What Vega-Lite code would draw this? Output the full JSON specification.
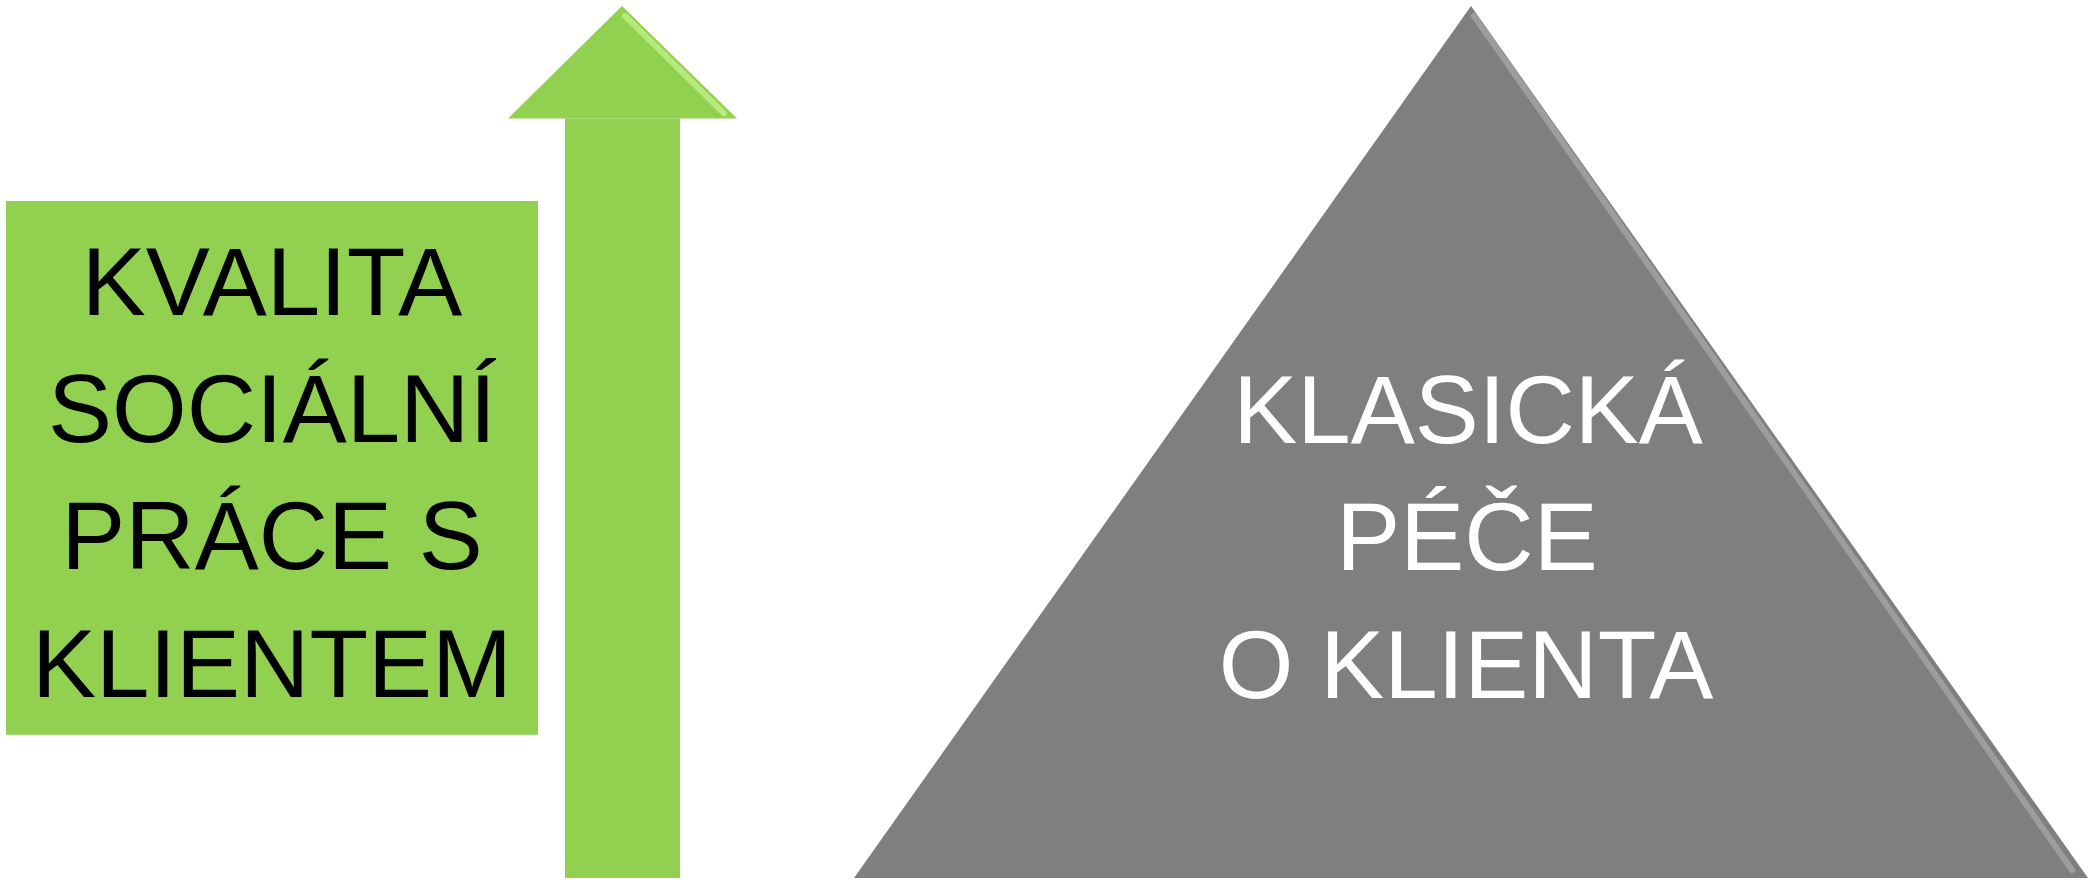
{
  "$schema": "https://vega.github.io/schema/vega-lite/v6.json",
  "width": 2100,
  "height": 882,
  "autosize": {"type": "fit", "contains": "padding"},
  "padding": 0,
  "background": "white",
  "config": {"view": {"stroke": null}},
  "resolve": {"scale": {"color": "independent"}},
  "datasets": {
    "rects": [
      {"shape": "box", "x": 6, "x2": 538, "y": 202, "y2": 738},
      {"shape": "shaft", "x": 565, "x2": 680, "y": 119, "y2": 882}
    ],
    "head": [
      {"x": 508, "y": 119, "b": 119},
      {"x": 622, "y": 6, "b": 119},
      {"x": 737, "y": 119, "b": 119}
    ],
    "triangle": [
      {"x": 854, "y": 882, "b": 882},
      {"x": 1471, "y": 6, "b": 882},
      {"x": 2088, "y": 882, "b": 882}
    ],
    "highlights": [
      {"s": "tri", "x": 1474, "y": 16},
      {"s": "tri", "x": 2072, "y": 874},
      {"s": "arrow", "x": 625, "y": 16},
      {"s": "arrow", "x": 724, "y": 114}
    ],
    "labels": [
      {"g": "left", "t": "KVALITA", "x": 272, "y": 316},
      {"g": "left", "t": "SOCIÁLNÍ", "x": 272, "y": 444},
      {"g": "left", "t": "PRÁCE S", "x": 272, "y": 572},
      {"g": "left", "t": "KLIENTEM", "x": 272, "y": 700},
      {"g": "right", "t": "KLASICKÁ", "x": 1468, "y": 445},
      {"g": "right", "t": "PÉČE", "x": 1467, "y": 573},
      {"g": "right", "t": "O KLIENTA", "x": 1466, "y": 701}
    ]
  },
  "layer": [
    {
      "data": {"name": "rects"},
      "mark": {"type": "rect", "color": "#92D050"},
      "encoding": {
        "x": {"field": "x", "type": "quantitative", "scale": {"domain": [0, 2100], "nice": false, "zero": false}, "axis": null},
        "x2": {"field": "x2"},
        "y": {"field": "y", "type": "quantitative", "scale": {"domain": [0, 882], "reverse": true, "nice": false, "zero": false}, "axis": null},
        "y2": {"field": "y2"}
      }
    },
    {
      "data": {"name": "head"},
      "mark": {"type": "area", "color": "#92D050", "interpolate": "linear"},
      "encoding": {
        "x": {"field": "x", "type": "quantitative", "scale": {"domain": [0, 2100], "nice": false, "zero": false}, "axis": null},
        "y": {"field": "y", "type": "quantitative", "scale": {"domain": [0, 882], "reverse": true, "nice": false, "zero": false}, "axis": null},
        "y2": {"field": "b"}
      }
    },
    {
      "data": {"name": "triangle"},
      "mark": {"type": "area", "color": "#7F7F7F", "interpolate": "linear"},
      "encoding": {
        "x": {"field": "x", "type": "quantitative", "scale": {"domain": [0, 2100], "nice": false, "zero": false}, "axis": null},
        "y": {"field": "y", "type": "quantitative", "scale": {"domain": [0, 882], "reverse": true, "nice": false, "zero": false}, "axis": null},
        "y2": {"field": "b"}
      }
    },
    {
      "data": {"name": "highlights"},
      "mark": {"type": "line", "strokeWidth": 6, "opacity": 0.7, "strokeCap": "round"},
      "encoding": {
        "x": {"field": "x", "type": "quantitative", "scale": {"domain": [0, 2100], "nice": false, "zero": false}, "axis": null},
        "y": {"field": "y", "type": "quantitative", "scale": {"domain": [0, 882], "reverse": true, "nice": false, "zero": false}, "axis": null},
        "detail": {"field": "s"},
        "color": {"field": "s", "type": "nominal", "scale": {"domain": ["tri", "arrow"], "range": ["#A9A9A9", "#C6F590"]}, "legend": null}
      }
    },
    {
      "data": {"name": "labels"},
      "mark": {"type": "text", "font": "Liberation Sans", "fontSize": 96, "align": "center", "baseline": "alphabetic"},
      "encoding": {
        "x": {"field": "x", "type": "quantitative", "scale": {"domain": [0, 2100], "nice": false, "zero": false}, "axis": null},
        "y": {"field": "y", "type": "quantitative", "scale": {"domain": [0, 882], "reverse": true, "nice": false, "zero": false}, "axis": null},
        "text": {"field": "t"},
        "color": {"field": "g", "type": "nominal", "scale": {"domain": ["left", "right"], "range": ["#000000", "#FFFFFF"]}, "legend": null}
      }
    }
  ]
}
